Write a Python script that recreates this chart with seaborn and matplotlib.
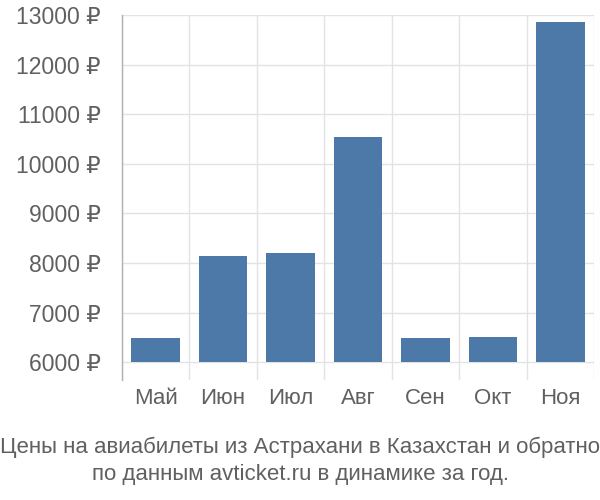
import matplotlib
matplotlib.use('Agg')
import matplotlib.pyplot as plt
import pandas as pd
import seaborn as sns

months = ['Май', 'Июн', 'Июл', 'Авг', 'Сен', 'Окт', 'Ноя']
prices = [6484, 8138, 8199, 10539, 6484, 6504, 12859]
y_ticks = [6000, 7000, 8000, 9000, 10000, 11000, 12000, 13000]
base = 6000

sns.set_theme(style='white')
plt.rcParams['font.family'] = ['Liberation Sans', 'DejaVu Sans']

df = pd.DataFrame({'month': months, 'price': prices})

fig = plt.figure(figsize=(6, 5), dpi=100)
ax = fig.add_axes([0.203, 0.24, 0.787, 0.73])

sns.barplot(data=df, x='month', y='price', color='#4d79a8', saturation=1, width=0.72, ax=ax)

# bars start from the 6000 line, not from zero
for p in ax.patches:
    h = p.get_y() + p.get_height()
    p.set_y(base)
    p.set_height(h - base)
    p.set_edgecolor('none')

ax.set_ylim(5640, 13000)
ax.set_xlim(-0.5, len(months) - 0.5)
ax.set_yticks(y_ticks)
ax.set_yticklabels([f'{v} ₽' for v in y_ticks])
ax.set_xticks(range(len(months)))
ax.set_xticks([i - 0.5 for i in range(len(months) + 1)], minor=True)

grid_c = '#e3e3e3'
ax.grid(axis='y', which='major', color=grid_c, linewidth=1)
ax.grid(axis='x', which='minor', color=grid_c, linewidth=1)
ax.set_axisbelow(True)

ax.tick_params(axis='y', which='major', length=14, color=grid_c, width=1, pad=1,
               labelsize=16.5, labelcolor='#606060')
ax.tick_params(axis='x', which='major', length=0, pad=6, labelsize=16, labelcolor='#606060')
ax.tick_params(axis='x', which='minor', length=0)

for s in ['top', 'right', 'bottom']:
    ax.spines[s].set_visible(False)
ax.spines['left'].set_color('#b0b0b0')
ax.spines['left'].set_linewidth(1)

ax.set_xlabel('')
ax.set_ylabel('')

fig.text(0.5, 0.078, 'Цены на авиабилеты из Астрахани в Казахстан и обратно\nпо данным avticket.ru в динамике за год.',
         ha='center', va='center', fontsize=16, color='#606060', linespacing=1.35)

plt.savefig('out.png', dpi=100)
